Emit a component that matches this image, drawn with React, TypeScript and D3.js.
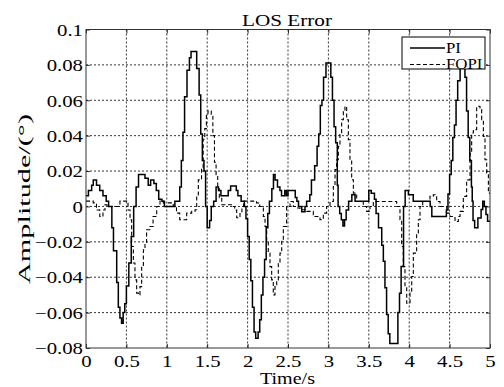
import React, { useEffect, useRef } from 'react'
import * as d3 from 'd3'

// step samples: [time (s), amplitude (deg)]
const piSteps: [number, number][] = [
  [0.00, 0.006], [0.03, 0.009], [0.07, 0.012], [0.09, 0.015], [0.13, 0.012], [0.17, 0.009],
  [0.21, 0.006], [0.25, 0.003], [0.28, 0], [0.32, -0.012], [0.34, -0.025], [0.38, -0.043],
  [0.40, -0.057], [0.42, -0.063], [0.44, -0.066], [0.46, -0.060], [0.48, -0.055], [0.50, -0.045],
  [0.53, -0.032], [0.56, -0.017], [0.59, 0], [0.62, 0.011], [0.65, 0.018], [0.73, 0.016],
  [0.77, 0.012], [0.80, 0.015], [0.84, 0.013], [0.87, 0.009], [0.90, 0.004], [0.94, 0.003],
  [0.97, 0], [1.10, 0.003], [1.16, 0.011], [1.18, 0.026], [1.20, 0.042], [1.22, 0.062],
  [1.25, 0.077], [1.28, 0.084], [1.30, 0.0875], [1.37, 0.078], [1.40, 0.063], [1.42, 0.041],
  [1.44, 0.026], [1.46, 0.020], [1.48, 0], [1.50, -0.012], [1.53, -0.008], [1.55, 0],
  [1.58, 0.003], [1.61, 0.011], [1.64, 0.009], [1.67, 0.006], [1.72, 0.006], [1.76, 0.009],
  [1.79, 0.0115], [1.86, 0.009], [1.88, 0.006], [1.92, 0.003], [1.96, 0], [1.98, -0.007],
  [2.00, -0.017], [2.02, -0.030], [2.04, -0.042], [2.06, -0.057], [2.08, -0.071], [2.10, -0.0745],
  [2.13, -0.071], [2.15, -0.064], [2.17, -0.050], [2.19, -0.040], [2.21, -0.030], [2.23, -0.012],
  [2.25, -0.004], [2.27, 0.003], [2.30, 0.010], [2.32, 0.018], [2.34, 0.015], [2.37, 0.011],
  [2.40, 0.009], [2.42, 0.006], [2.46, 0.009], [2.48, 0.006], [2.50, 0.009], [2.57, 0.009],
  [2.59, 0.005], [2.61, 0.003], [2.63, 0], [2.67, -0.003], [2.71, 0], [2.73, 0.003],
  [2.77, 0.0066], [2.79, 0.015], [2.83, 0.023], [2.86, 0.034], [2.88, 0.041], [2.90, 0.057],
  [2.92, 0.060], [2.94, 0.073], [2.97, 0.081], [3.01, 0.081], [3.03, 0.073], [3.05, 0.060],
  [3.07, 0.045], [3.09, 0.036], [3.11, 0.012], [3.12, 0], [3.14, -0.004], [3.16, -0.0075],
  [3.18, -0.011], [3.20, -0.0075], [3.22, -0.002], [3.25, 0.003], [3.29, 0.0066], [3.33, 0.003],
  [3.47, 0.003], [3.50, 0.009], [3.53, 0.0075], [3.56, 0.0075], [3.57, 0.004], [3.59, -0.004],
  [3.62, -0.012], [3.66, -0.022], [3.68, -0.031], [3.70, -0.046], [3.72, -0.061], [3.74, -0.072],
  [3.76, -0.0774], [3.85, -0.0774], [3.86, -0.060], [3.88, -0.049], [3.90, -0.034], [3.93, 0],
  [3.95, 0.009], [3.99, 0.0066], [4.05, 0.003], [4.22, 0.003], [4.26, 0], [4.28, -0.0057],
  [4.44, -0.0057], [4.46, -0.002], [4.48, 0.007], [4.50, 0.018], [4.52, 0.026], [4.54, 0.039],
  [4.56, 0.046], [4.58, 0.060], [4.60, 0.071], [4.63, 0.080], [4.65, 0.086], [4.67, 0.088],
  [4.69, 0.073], [4.71, 0.054], [4.73, 0.039], [4.75, 0.026], [4.77, 0.011], [4.78, 0.003],
  [4.79, -0.008], [4.81, -0.012], [4.85, -0.0065], [4.89, -0.0017], [4.91, 0.003], [4.93, 0],
  [4.95, -0.0045], [4.97, -0.0083], [5.00, -0.0083],
]

const fopiSteps: [number, number][] = [
  [0.00, 0.003], [0.09, 0.002], [0.13, -0.002], [0.17, -0.0057], [0.21, -0.002], [0.235, 0.001],
  [0.26, 0], [0.42, 0.003], [0.52, -0.002], [0.545, -0.0075], [0.565, -0.0226], [0.586, -0.032],
  [0.606, -0.0415], [0.627, -0.049], [0.648, -0.050], [0.668, -0.0453], [0.689, -0.034], [0.71, -0.0245],
  [0.73, -0.021], [0.75, -0.0132], [0.79, -0.0113], [0.83, -0.0057], [0.875, 0], [0.916, 0.003],
  [0.957, 0.002], [1.08, 0], [1.12, -0.0038], [1.16, -0.0075], [1.205, -0.0075], [1.246, -0.0038],
  [1.308, -0.0028], [1.349, -0.0019], [1.37, 0.0057], [1.39, 0.015], [1.43, 0.021], [1.45, 0.038],
  [1.47, 0.044], [1.49, 0.052], [1.51, 0.054], [1.55, 0.051], [1.57, 0.040], [1.59, 0.025],
  [1.61, 0.018], [1.63, 0.010], [1.65, 0.005], [1.68, 0.001], [1.80, 0], [1.84, -0.002],
  [1.865, -0.0064], [1.906, -0.003], [1.93, 0], [1.95, 0.003], [2.11, 0.002], [2.15, 0],
  [2.195, -0.0057], [2.216, -0.0113], [2.236, -0.019], [2.256, -0.0264], [2.277, -0.034], [2.298, -0.0415],
  [2.318, -0.050], [2.339, -0.0453], [2.36, -0.0415], [2.38, -0.032], [2.401, -0.0264], [2.422, -0.019],
  [2.442, -0.0113], [2.483, 0], [2.525, 0.0028], [2.566, 0], [2.607, -0.0009], [2.648, -0.0019],
  [2.731, -0.0028], [2.813, -0.0057], [2.896, -0.0075], [2.937, -0.0038], [2.978, 0], [3.02, 0.0028],
  [3.061, 0.0113], [3.082, 0.0208], [3.102, 0.0264], [3.123, 0.034], [3.143, 0.0415], [3.164, 0.049],
  [3.185, 0.054], [3.205, 0.0566], [3.226, 0.049], [3.247, 0.0377], [3.267, 0.0264], [3.288, 0.0151],
  [3.309, 0.0075], [3.35, 0.0028], [3.432, 0], [3.473, -0.0028], [3.515, 0], [3.556, 0.0028],
  [3.845, 0], [3.886, -0.0075], [3.907, -0.0226], [3.927, -0.034], [3.948, -0.0453], [3.969, -0.0547],
  [4.01, -0.049], [4.031, -0.0396], [4.051, -0.0264], [4.092, -0.015], [4.113, -0.0075], [4.134, 0],
  [4.167, 0.0028], [4.257, 0.0057], [4.298, 0.0066], [4.34, 0.0028], [4.381, 0], [4.464, -0.0038],
  [4.505, -0.0057], [4.567, -0.0085], [4.608, -0.0057], [4.629, -0.0028], [4.67, 0.0057], [4.711, 0.015],
  [4.753, 0.030], [4.773, 0.0415], [4.794, 0.0434], [4.835, 0.0566], [4.876, 0.0547], [4.897, 0.049],
  [4.918, 0.0396], [4.938, 0.0264], [4.959, 0.0189], [4.98, 0.0075], [5.00, 0.0075],
]

const xTicks = [0, 0.5, 1, 1.5, 2, 2.5, 3, 3.5, 4, 4.5, 5]
const yTicks = [-0.08, -0.06, -0.04, -0.02, 0, 0.02, 0.04, 0.06, 0.08, 0.1]
const seriesNames = ['PI', 'FOPI']

const FONT = "'Liberation Serif', 'Times New Roman', serif"

function LosErrorChart() {
  const svgRef = useRef<SVGSVGElement>(null)
  const width = 504
  const height = 387
  const margin = { top: 29.5, right: 14, bottom: 39, left: 86 }

  useEffect(() => {
    const svg = d3.select(svgRef.current)
      .attr('width', width)
      .attr('height', height)
    svg.selectAll('*').remove()

    const innerWidth = width - margin.left - margin.right
    const innerHeight = height - margin.top - margin.bottom

    const g = svg.append('g')
      .attr('transform', `translate(${margin.left},${margin.top})`)

    const x = d3.scaleLinear().domain([0, 5]).range([0, innerWidth])
    const y = d3.scaleLinear().domain([-0.08, 0.1]).range([innerHeight, 0])

    // dotted grid
    g.append('g')
      .selectAll('line')
      .data(xTicks.slice(1, -1))
      .enter()
      .append('line')
      .attr('x1', d => x(d)).attr('x2', d => x(d))
      .attr('y1', 0).attr('y2', innerHeight)
      .attr('stroke', '#000').attr('stroke-width', 0.8)
      .attr('stroke-dasharray', '2,2')
    g.append('g')
      .selectAll('line')
      .data(yTicks.slice(1))
      .enter()
      .append('line')
      .attr('y1', d => y(d)).attr('y2', d => y(d))
      .attr('x1', 0).attr('x2', innerWidth)
      .attr('stroke', '#000').attr('stroke-width', 0.8)
      .attr('stroke-dasharray', '2,2')

    const fmt = (v: number) => (v === 0 ? '0' : String(+v.toFixed(2)).replace('-', '\u2212'))

    // axes with inward ticks
    const yAxis = g.append('g')
      .call(d3.axisLeft(y).tickValues(yTicks).tickSizeInner(-4).tickSizeOuter(0).tickFormat(d => fmt(+d)))
    const xAxis = g.append('g')
      .attr('transform', `translate(0,${innerHeight})`)
      .call(d3.axisBottom(x).tickValues(xTicks).tickSizeInner(-4).tickSizeOuter(0).tickFormat(d => String(d)))
    g.append('g')
      .call(d3.axisRight(y).tickValues(yTicks).tickSizeInner(-4).tickSizeOuter(0).tickFormat(() => ''))
      .attr('transform', `translate(${innerWidth},0)`)
    g.append('g')
      .call(d3.axisTop(x).tickValues(xTicks).tickSizeInner(-4).tickSizeOuter(0).tickFormat(() => ''))

    g.selectAll('.domain').remove()
    g.selectAll('.tick line').attr('stroke', '#000').attr('stroke-width', 0.8)
    g.selectAll('g').attr('font-family', FONT)

    yAxis.selectAll('text')
      .attr('font-family', FONT).attr('font-size', 16).attr('fill', '#000')
      .attr('x', -2.3).attr('dy', '0.36em')
      .attr('transform', 'scale(1.3,1)')
    xAxis.selectAll('text')
      .attr('font-family', FONT).attr('font-size', 16).attr('fill', '#000')
      .attr('y', 7.3).attr('dy', '0.71em')
      .attr('transform', 'scale(1.3,1)')

    // series
    const line = d3.line<[number, number]>()
      .x(d => x(d[0]))
      .y(d => y(d[1]))
      .curve(d3.curveStepAfter)

    g.append('path')
      .attr('d', line(fopiSteps))
      .attr('fill', 'none')
      .attr('stroke', '#000')
      .attr('stroke-width', 1.1)
      .attr('stroke-dasharray', '4,2.5')
    g.append('path')
      .attr('d', line(piSteps))
      .attr('fill', 'none')
      .attr('stroke', '#000')
      .attr('stroke-width', 1.5)

    // frame
    g.append('rect')
      .attr('width', innerWidth).attr('height', innerHeight)
      .attr('fill', 'none').attr('stroke', '#333').attr('stroke-width', 1)

    // legend
    const lg = svg.append('g').attr('transform', 'translate(402,37)')
    lg.append('rect')
      .attr('width', 83).attr('height', 32)
      .attr('fill', '#fff').attr('stroke', '#000').attr('stroke-width', 1)
    seriesNames.forEach((name, i) => {
      const ly = 11 + i * 16.5
      lg.append('line')
        .attr('x1', 8).attr('x2', 43).attr('y1', ly).attr('y2', ly)
        .attr('stroke', '#000')
        .attr('stroke-width', i === 0 ? 1.5 : 1.1)
        .attr('stroke-dasharray', i === 0 ? null : '4,2.5')
      lg.append('text')
        .attr('transform', `translate(44,${ly + 4.8}) scale(1.2,1)`)
        .attr('font-family', FONT).attr('font-size', 14).attr('fill', '#000')
        .text(name)
    })

    // title and axis labels
    svg.append('text')
      .attr('x', 242).attr('y', 26)
      .attr('font-family', FONT).attr('font-size', 17).attr('fill', '#000')
      .attr('textLength', 90).attr('lengthAdjust', 'spacingAndGlyphs')
      .text('LOS Error')

    svg.append('text')
      .attr('x', 260).attr('y', 384)
      .attr('font-family', FONT).attr('font-size', 17).attr('fill', '#000')
      .attr('textLength', 55).attr('lengthAdjust', 'spacingAndGlyphs')
      .text('Time/s')

    svg.append('text')
      .attr('transform', 'translate(30,284) rotate(-90)')
      .attr('font-family', FONT).attr('font-size', 17).attr('fill', '#000')
      .attr('textLength', 170).attr('lengthAdjust', 'spacingAndGlyphs')
      .text('Amplitude/(°)')
  }, [])

  return <svg ref={svgRef} style={{ position: 'absolute', left: 0, top: 0, background: '#fff' }}></svg>
}

export default function App() {
  return <LosErrorChart />
}
